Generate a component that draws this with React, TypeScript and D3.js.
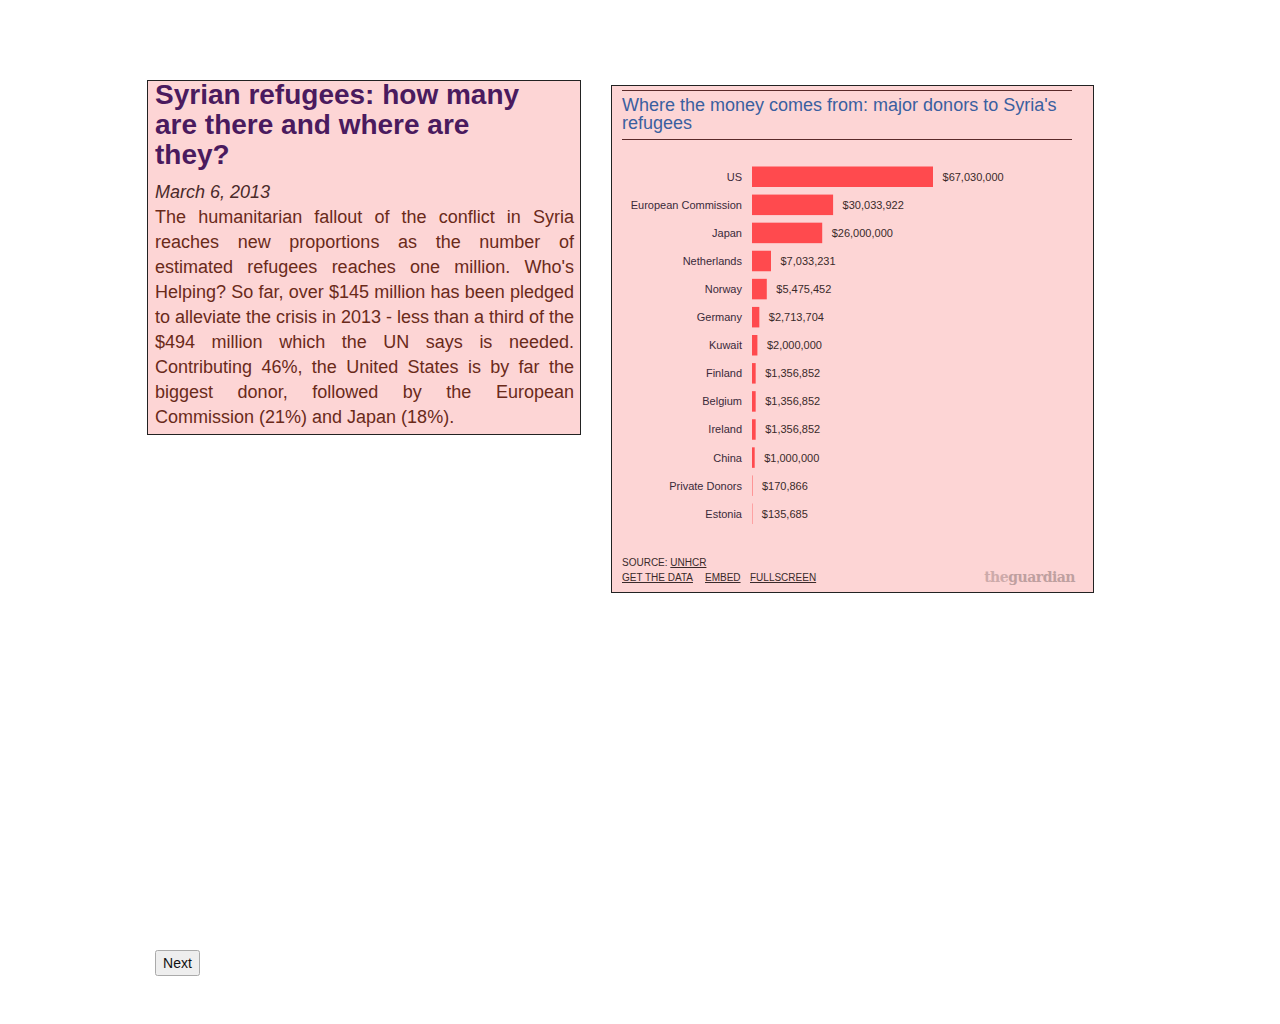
import * as d3 from "d3"

const donors = ["US", "European Commission", "Japan", "Netherlands", "Norway", "Germany", "Kuwait", "Finland", "Belgium", "Ireland", "China", "Private Donors", "Estonia"]
const amounts = [67030000, 30033922, 26000000, 7033231, 5475452, 2713704, 2000000, 1356852, 1356852, 1356852, 1000000, 170866, 135685]

const headline = ["Syrian refugees: how many", "are there and where are", "they?"]
const bodyLines = [
  "The humanitarian fallout of the conflict in Syria",
  "reaches new proportions as the number of",
  "estimated refugees reaches one million. Who's",
  "Helping? So far, over $145 million has been pledged",
  "to alleviate the crisis in 2013 - less than a third of the",
  "$494 million which the UN says is needed.",
  "Contributing 46%, the United States is by far the",
  "biggest donor, followed by the European",
  "Commission (21%) and Japan (18%).",
]

const FONT = "Arial, 'Liberation Sans', sans-serif"

// crude justify: spread words across a fixed width
function JustLine({ text, x, y, w, last }: { text: string; x: number; y: number; w: number; last: boolean }) {
  if (last) return <text x={x} y={y}>{text}</text>
  const words = text.split(" ")
  const ctx = document.createElement("canvas").getContext("2d")!
  ctx.font = `18px ${FONT}`
  const widths = words.map((s) => ctx.measureText(s).width)
  const gap = (w - d3.sum(widths)) / (words.length - 1)
  let cx = x
  return (
    <g>
      {words.map((s, i) => {
        const el = <text key={i} x={cx} y={y}>{s}</text>
        cx += widths[i] + gap
        return el
      })}
    </g>
  )
}

export default function App() {
  const x = d3.scaleLinear().domain([0, 67030000]).range([0, 181])
  const y = d3.scaleBand().domain(donors).range([166.5, 524]).paddingInner(0.27).paddingOuter(0)
  const fmt = d3.format(",")
  return (
    <svg width={1280} height={1024} style={{ position: "absolute", left: 0, top: 0 }} fontFamily={FONT}>
      {/* text panel */}
      <rect x={147.5} y={80.5} width={433} height={354} fill="#fdd5d5" stroke="#222" />
      <g fontSize={28} fontWeight="bold" fill="#4a1a5e">
        {headline.map((l, i) => <text key={i} x={155} y={104 + i * 30}>{l}</text>)}
      </g>
      <text x={155} y={198} fontSize={18} fontStyle="italic" fill="#4a2a2a">March 6, 2013</text>
      <g fontSize={18} fill="#6a2a1a">
        {bodyLines.map((l, i) => (
          <JustLine key={i} text={l} x={155} y={223 + i * 25} w={419} last={i === bodyLines.length - 1} />
        ))}
      </g>

      {/* chart panel */}
      <rect x={611.5} y={85.5} width={482} height={507} fill="#fdd5d5" stroke="#222" />
      <line x1={622} x2={1072} y1={90.5} y2={90.5} stroke="#5a2a2a" />
      <g fontSize={18} fill="#3a5fa0">
        <text x={622} y={111}>Where the money comes from: major donors to Syria's</text>
        <text x={622} y={129}>refugees</text>
      </g>
      <line x1={622} x2={1072} y1={139.5} y2={139.5} stroke="#5a2a2a" />
      <g fontSize={11}>
        {donors.map((d, i) => {
          const yy = y(d)!
          const w = x(amounts[i])
          return (
            <g key={d}>
              <text x={742} y={yy + y.bandwidth() / 2 + 4} textAnchor="end" fill="#3a2a3a">{d}</text>
              <rect x={752} y={yy} width={w} height={y.bandwidth()} fill="#ff4a4e" />
              <text x={752 + w + 9.5} y={yy + y.bandwidth() / 2 + 4} fill="#3a2a2a">${fmt(amounts[i])}</text>
            </g>
          )
        })}
      </g>
      <g fontSize={10} fill="#3a2a2a">
        <text x={622} y={566}>SOURCE: <tspan textDecoration="underline">UNHCR</tspan></text>
        <text x={622} y={581} textDecoration="underline">GET THE DATA</text>
        <text x={705} y={581} textDecoration="underline">EMBED</text>
        <text x={750} y={581} textDecoration="underline">FULLSCREEN</text>
      </g>
      <text x={1075} y={582} textAnchor="end" fontFamily="'DejaVu Serif', serif" fontWeight="bold" fontSize={14} fill="#cdaaaa" letterSpacing={-0.5}>
        the<tspan fill="#bfa0a0">guardian</tspan>
      </text>

      {/* button */}
      <rect x={155.5} y={950.5} width={44} height={25} fill="#eee" stroke="#aaa" rx={2} />
      <text x={177.5} y={968} fontSize={14} textAnchor="middle" fill="#111">Next</text>
    </svg>
  )
}
